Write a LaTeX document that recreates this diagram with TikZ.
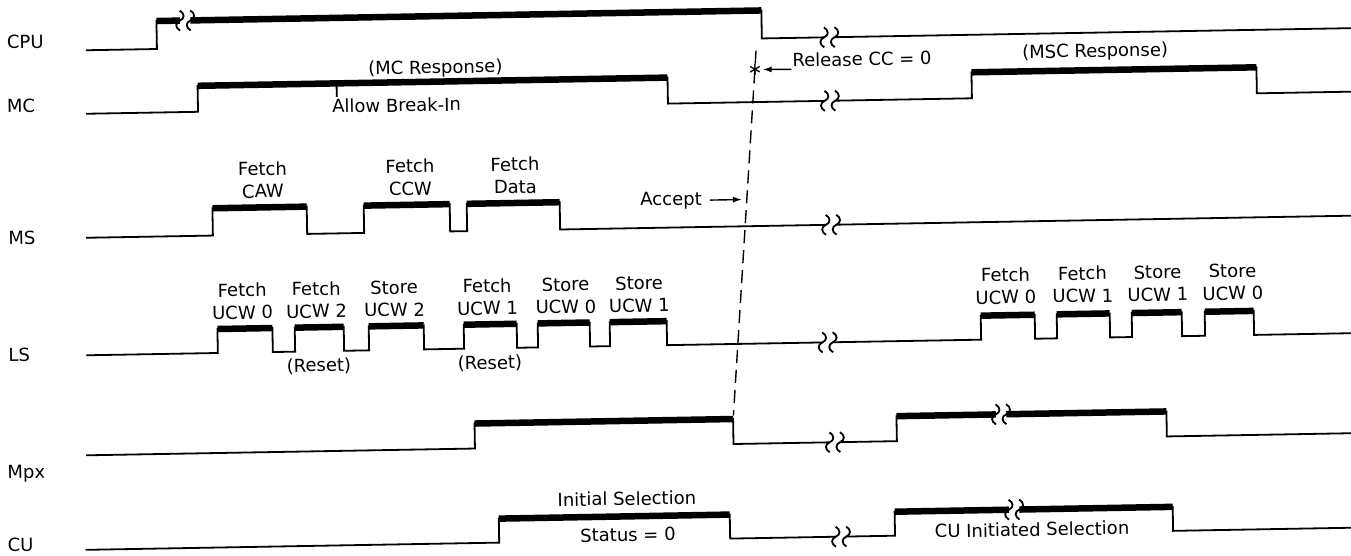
\documentclass[tikz,border=0pt]{standalone}
\usepackage{fontspec}
\setmainfont{DejaVu Sans}
\usetikzlibrary{arrows.meta}

\begin{document}
\begin{tikzpicture}[x=1pt, y=-1pt,
    sig/.style={line width=1.8pt},
    bar/.style={line width=6.5pt},
    txt/.style={font=\fontsize{18}{22.5}\selectfont, inner sep=0pt, anchor=base},
    evt/.style={txt, align=center, anchor=south},
    arr/.style={-{Latex[length=9pt,width=6pt]}, line width=1.4pt},
    brk/.pic={
      \draw[line width=1.8pt] (-5.25,-10) .. controls (-0.25,-7) and (-0.25,-2) .. (-5.25,0)
        .. controls (-10.25,2) and (-10.25,7) .. (-5.25,10);
      \draw[line width=1.8pt] (5.25,-10) .. controls (10.25,-7) and (10.25,-2) .. (5.25,0)
        .. controls (0.25,2) and (0.25,7) .. (5.25,10);
    }
]
\useasboundingbox (0,0) rectangle (1351,555);
\begin{scope}[rotate around={1:(675,278)}, transform shape]

% signal names
\node[txt, anchor=base west] (cpu) at (11,37) {CPU};
\node[txt, anchor=base west] (mc) at (10,101) {MC};
\node[txt, anchor=base west] (ms) at (9,233) {MS};
\node[txt, anchor=base west] (ls) at (7,350) {LS};
\node[txt, anchor=base west] (mpx) at (4,467) {Mpx};
\node[txt, anchor=base west] (cu) at (3,540) {CU};

% CPU
\draw[sig] (90,40) -| (161,12) -- (184.5,12);
\draw[sig] (195,12) -| (766,40) -- (828.25,40);
\draw[sig] (838.75,40) -- (1360,40);
\draw[bar] (161,12) -- (184.5,12) (195,12) -- (766,12);
\pic at (189.75,12) {brk};
\pic at (833.5,40) {brk};

% MC
\draw[sig] (89,103.5) -| (201,77.5) -| (671,103.5) -- (827.75,103.5);
\draw[sig] (838.25,103.5) -| (975,77.5) -| (1260,103.5) -- (1360,103.5);
\draw[bar] (201,77.5) -- (671,77.5) (975,77.5) -- (1260,77.5);
\pic at (833,103.5) {brk};
\draw[sig] (340,80) -- (340,91);
\node[txt] (mcresp) at (439,69.5) {(MC Response)};
\node[txt, anchor=base west] (breakin) at (335,107) {Allow Break-In};
\node[txt] (mscresp) at (1099,64.5) {(MSC Response)};

% MS
\draw[sig] (87,227.5) -| (213.7,200.2) -| (308,227.5) -| (365,200.2) -| (451,227.5)
  -| (468,200.2) -| (561,227.5) -- (826.75,227.5);
\draw[sig] (837.25,227.5) -- (1360,227.5);
\draw[bar] (213.7,200.2) -- (308,200.2) (365,200.2) -- (451,200.2) (468,200.2) -- (561,200.2);
\pic at (832,227.5) {brk};
\node[evt] (fcaw) at (264.5,191) {Fetch\\CAW};
\node[evt] (fccw) at (412,191) {Fetch\\CCW};
\node[evt] (fdata) at (517,191) {Fetch\\Data};
\node[txt] (accept) at (672.4,205.4) {Accept};
\draw[arr] ([xshift=8pt]accept.east) -- ++(32,0);

% LS
\draw[sig] (85,345) -| (216.6,321) -| (271.6,345) -| (293.9,321) -| (342.9,345)
  -| (367.9,321) -| (422.9,345) -| (462.9,321) -| (515.9,345) -| (536.9,321)
  -| (588.9,345) -| (608.9,321) -| (665.9,345) -- (821.25,345);
\draw[sig] (831.75,345) -| (980,321) -| (1034,345) -| (1056,321) -| (1109,345)
  -| (1131,321) -| (1181,345) -| (1204,321) -| (1253,345) -- (1350,345);
\draw[bar] (216.6,321) -- (271.6,321) (293.9,321) -- (342.9,321) (367.9,321) -- (422.9,321)
  (462.9,321) -- (515.9,321) (536.9,321) -- (588.9,321) (608.9,321) -- (665.9,321)
  (980,321) -- (1034,321) (1056,321) -- (1109,321) (1131,321) -- (1181,321) (1204,321) -- (1253,321);
\pic at (826.5,345) {brk};
\node[evt] (fucw0) at (242,312) {Fetch\\UCW 0};
\node[evt] (fucw2) at (316,312) {Fetch\\UCW 2};
\node[evt] (sucw2) at (394,312) {Store\\UCW 2};
\node[evt] (fucw1) at (487,312) {Fetch\\UCW 1};
\node[evt] (sucw0) at (565.5,312) {Store\\UCW 0};
\node[evt] (sucw1) at (639,312) {Store\\UCW 1};
\node[txt] (reset1) at (317.5,365.5) {(Reset)};
\node[txt] (reset2) at (488.5,366) {(Reset)};
\node[evt] (rfucw0) at (1005.5,310) {Fetch\\UCW 0};
\node[evt] (rfucw1) at (1082.5,310) {Fetch\\UCW 1};
\node[evt] (rsucw1) at (1157.5,310) {Store\\UCW 1};
\node[evt] (rsucw0) at (1232.5,310) {Store\\UCW 0};

% Mpx
\draw[sig] (83,445) -| (472,420) -| (730.6,445) -- (826.75,445);
\draw[sig] (837.25,445) -| (894,420) -- (993.35,420);
\draw[sig] (1003.85,420) -| (1164,445) -- (1360,445);
\draw[bar] (472,420) -- (730.6,420) (894,420) -- (993.35,420) (1003.85,420) -- (1164,420);
\pic at (832,445) {brk};
\pic at (998.6,420) {brk};

% CU
\draw[sig] (81,539.5) -| (494.6,515.5) -| (725.6,539.5) -- (831.25,539.5);
\draw[sig] (841.75,539.5) -| (890.5,515.5) -- (1004.75,515.5);
\draw[sig] (1015.25,515.5) -| (1168.6,539.5) -- (1360,539.5);
\draw[bar] (494.6,515.5) -- (725.6,515.5) (890.5,515.5) -- (1004.75,515.5) (1015.25,515.5) -- (1168.6,515.5);
\pic at (836.5,539.5) {brk};
\pic at (1010,515.5) {brk};
\node[txt] (initsel) at (623,504.4) {Initial Selection};
\node[txt] (status) at (623.5,540.4) {Status = 0};
\node[txt] (cuinit) at (1027.6,542.4) {CU Initiated Selection};

% release line
\coordinate (reltop) at (760,52);
\coordinate (relbot) at (731,416.5);
\draw[line width=1.4pt, dash pattern=on 13pt off 7pt] (reltop) -- (relbot);
\node[inner sep=0pt, font=\fontsize{18}{18}\selectfont] (star) at (758.6,71) {∗};
\node[txt, anchor=base west] (release) at (796,69) {Release CC = 0};
\draw[arr] (release.base west) ++(-1,2.5) -- (star.east);

\end{scope}
\end{tikzpicture}
\end{document}
